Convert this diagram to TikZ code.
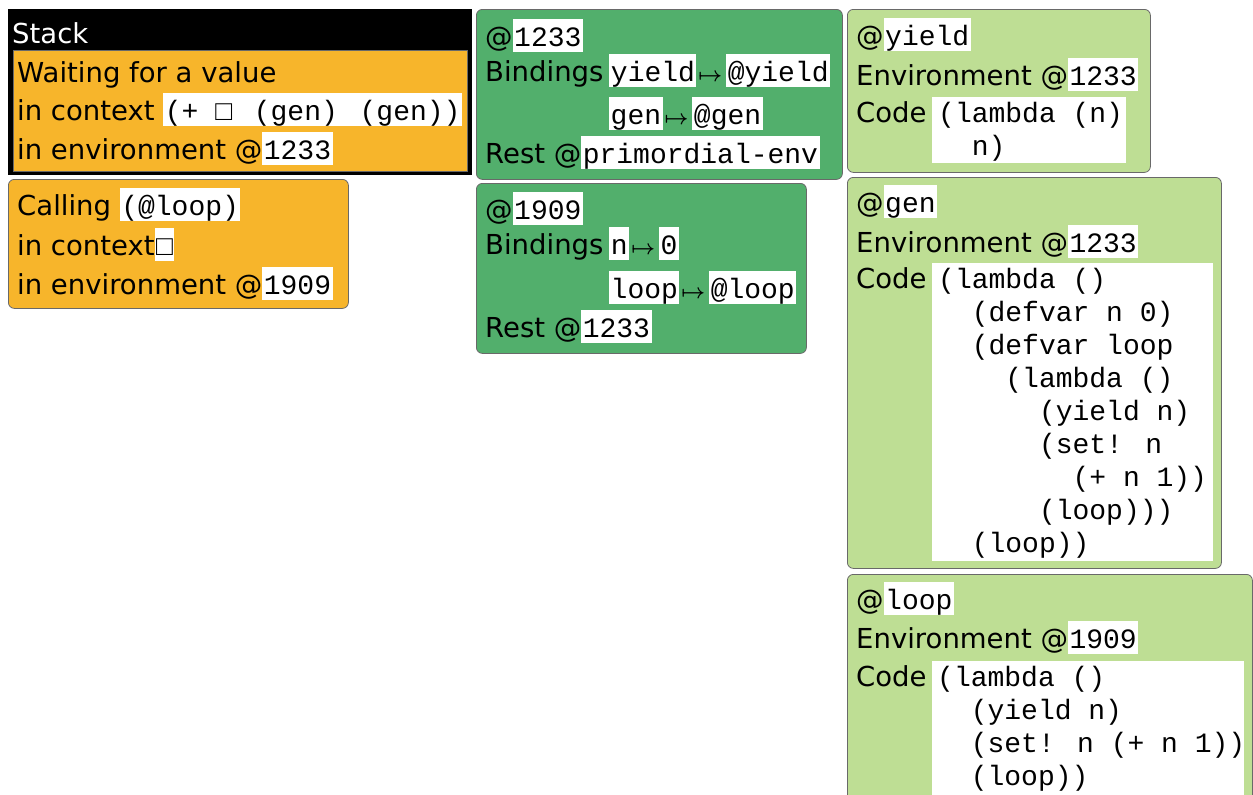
\documentclass[tikz,border=0pt]{standalone}
\usepackage{fontspec}
\setmainfont{DejaVu Sans}
\newfontfamily\monofam{Liberation Mono}
\definecolor{orangebox}{RGB}{247,181,43}
\definecolor{greenbox}{RGB}{82,175,108}
\definecolor{lightgreenbox}{RGB}{190,222,148}
\definecolor{framegray}{RGB}{105,105,105}
\newcommand\wbx[1]{{\setlength{\fboxsep}{0pt}\colorbox{white}{\hspace{1.5pt}\rule[-6pt]{0pt}{33pt}\fontsize{28pt}{33pt}\monofam #1\hspace{1.5pt}}}}
\newcommand\mapsym{\hspace{2pt}{\fontsize{21pt}{21pt}\selectfont\boldmath$\mapsto$}\hspace{4pt}}
\begin{document}
\begin{tikzpicture}[x=1pt,y=-1pt,
  txt/.style={anchor=base west, inner sep=0pt, font=\fontsize{27.5pt}{33pt}\selectfont},
  codeln/.style={anchor=base west, inner sep=0pt, font=\fontsize{28pt}{33pt}\monofam},
  panel/.style={anchor=north west, inner sep=0pt, draw=framegray, line width=0.8pt, rounded corners=6pt},
  codebg/.style={anchor=north west, inner sep=0pt, fill=white}]
\useasboundingbox (0,0) rectangle (1253,795);
\clip (0,0) rectangle (1253,795);
% ---------------- left column: stack
\node[panel, fill=black, draw=none, rounded corners=0pt, minimum width=464, minimum height=166] (stackframe) at (8,9) {};
\node[txt, text=white] (stacklbl) at (12,43) {Stack};
\node[panel, fill=orangebox, rounded corners=0pt, minimum width=454, minimum height=121] (wait) at (13,50) {};
\node[txt] (wait1) at (17,82) {Waiting for a value};
\node[txt] (wait2) at (17,120) {in context \wbx{(+ □\hspace{5pt} (gen)\hspace{5pt} (gen))}};
\node[txt] (wait3) at (17,159) {in environment @\wbx{1233}};
\node[panel, fill=orangebox, minimum width=340, minimum height=129] (call) at (8,179) {};
\node[txt] (call1) at (17,215) {Calling \wbx{(@loop)}};
\node[txt] (call2) at (17,255) {in context\wbx{□}};
\node[txt] (call3) at (17,294) {in environment @\wbx{1909}};
% ---------------- middle column: environments
\node[panel, fill=greenbox, minimum width=366, minimum height=170] (envA) at (476,9) {};
\node[txt] (envA1) at (485,46) {@\wbx{1233}};
\node[txt] (envA2) at (485,81) {Bindings\hspace{6pt}\wbx{yield}\mapsym\wbx{@yield}};
\node[txt] (envA3) at (609,124) {\wbx{gen}\mapsym\wbx{@gen}};
\node[txt] (envA4) at (485,163) {Rest @\wbx{primordial-env}};
\node[panel, fill=greenbox, minimum width=330, minimum height=170] (envB) at (476,183) {};
\node[txt] (envB1) at (485,219) {@\wbx{1909}};
\node[txt] (envB2) at (485,254) {Bindings\hspace{6pt}\wbx{n}\mapsym\wbx{0}};
\node[txt] (envB3) at (609,298) {\wbx{loop}\mapsym\wbx{@loop}};
\node[txt] (envB4) at (485,337) {Rest @\wbx{1233}};
% ---------------- right column: closures
\node[panel, fill=lightgreenbox, minimum width=303, minimum height=163] (cloY) at (847,9) {};
\node[txt] (cloY1) at (856,45) {@\wbx{yield}};
\node[txt] (cloY2) at (856,85) {Environment @\wbx{1233}};
\node[txt] (cloY3) at (856,122) {Code};
\node[codebg, minimum width=194, minimum height=66] (cloYbg) at (932,97) {};
\node[codeln] (cy1) at (938,122) {(lambda (n)};
\node[codeln] (cy2) at (971.6,155) {n)};
\node[panel, fill=lightgreenbox, minimum width=374, minimum height=391] (cloG) at (847,177) {};
\node[txt] (cloG1) at (856,212) {@\wbx{gen}};
\node[txt] (cloG2) at (856,252) {Environment @\wbx{1233}};
\node[txt] (cloG3) at (856,288) {Code};
\node[codebg, minimum width=281, minimum height=298] (cloGbg) at (932,263) {};
\node[codeln] (cg1) at (938,288) {(lambda ()};
\node[codeln] (cg2) at (971.6,321) {(defvar n 0)};
\node[codeln] (cg3) at (971.6,354) {(defvar loop};
\node[codeln] (cg4) at (1005.2,387) {(lambda ()};
\node[codeln] (cg5) at (1038.8,420) {(yield n)};
\node[codeln] (cg6) at (1038.8,453) {(set! n};
\node[codeln] (cg7) at (1072.4,486) {(+ n 1))};
\node[codeln] (cg8) at (1038.8,519) {(loop)))};
\node[codeln] (cg9) at (971.6,552) {(loop))};
\node[panel, fill=lightgreenbox, minimum width=405, minimum height=240] (cloL) at (847,574) {};
\node[txt] (cloL1) at (856,609) {@\wbx{loop}};
\node[txt] (cloL2) at (856,648) {Environment @\wbx{1909}};
\node[txt] (cloL3) at (856,686) {Code};
\node[codebg, minimum width=312, minimum height=200] (cloLbg) at (932,661) {};
\node[codeln] (cl1) at (937,686) {(lambda ()};
\node[codeln] (cl2) at (970.6,719) {(yield n)};
\node[codeln] (cl3) at (970.6,752) {(set! n (+ n 1))};
\node[codeln] (cl4) at (970.6,785) {(loop))};
\end{tikzpicture}
\end{document}
